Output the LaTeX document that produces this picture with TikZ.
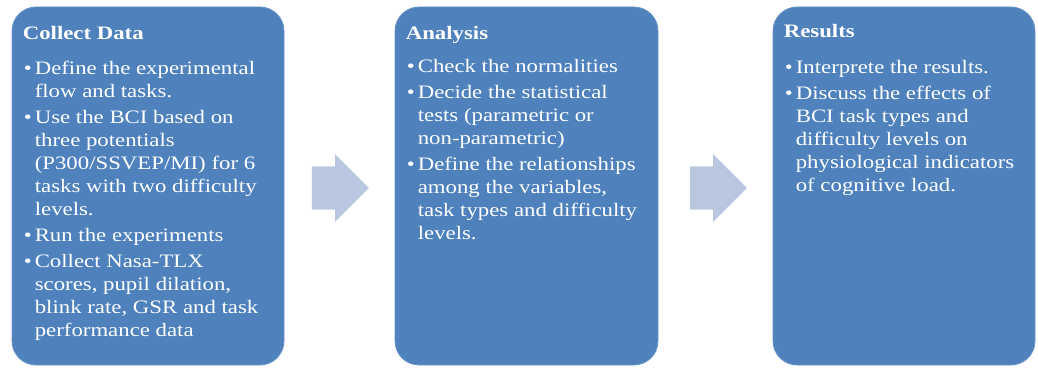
\documentclass[tikz,border=0pt]{standalone}
\usepackage{fontspec}
\setmainfont{LiberationSerif}[Extension=.ttf,UprightFont=*-Regular,BoldFont=*-Bold,ItalicFont=*-Italic,BoldItalicFont=*-BoldItalic,FakeStretch=1.2]
\usetikzlibrary{shapes.arrows,calc}
\definecolor{stageblue}{HTML}{4F81BD}
\definecolor{arrowblue}{HTML}{B9C6DF}
\newcommand{\bul}{\makebox[12pt][l]{\hspace{1pt}\textbullet}}
\begin{document}
\begin{tikzpicture}[x=1pt,y=1pt,
  stage box/.style={draw=stageblue!85!white,line width=0.8pt,fill=stageblue,rounded corners=24pt,minimum height=358pt,inner sep=0pt},
  stage text/.style={anchor=north west,inner sep=0pt,text=white,font=\fontsize{19}{23}\selectfont},
  flow arrow/.style={single arrow,fill=arrowblue,draw=none,minimum height=57pt,single arrow head extend=12pt,inner xsep=0pt,inner ysep=21.5pt}]
  \useasboundingbox (0,0) rectangle (1038,372);
  \node[stage box,minimum width=272pt] (1) at (148,186) {};
  \node[stage box,minimum width=263pt] (2) at (526.5,186) {};
  \node[stage box,minimum width=262pt] (3) at (904,186) {};

  \node[stage text] (t1) at ([shift={(11pt,-17pt)}]1.north west) {%
    \begin{tabular}{@{}l@{}l@{}}
      \multicolumn{2}{@{}l@{}}{\textbf{Collect Data}}\\[12pt]
      \bul & Define the experimental\\
           & flow and tasks.\\[3pt]
      \bul & Use the BCI based on\\
           & three potentials\\
           & (P300/SSVEP/MI) for 6\\
           & tasks with two difficulty\\
           & levels.\\[3pt]
      \bul & Run the experiments\\[3pt]
      \bul & Collect Nasa-TLX\\
           & scores, pupil dilation,\\
           & blink rate, GSR and task\\
           & performance data
    \end{tabular}};
  \node[stage text] (t2) at ([shift={(11pt,-17pt)}]2.north west) {%
    \begin{tabular}{@{}l@{}l@{}}
      \multicolumn{2}{@{}l@{}}{\textbf{Analysis}}\\[10pt]
      \bul & Check the normalities\\[3pt]
      \bul & Decide the statistical\\
           & tests (parametric or\\
           & non-parametric)\\[3pt]
      \bul & Define the relationships\\
           & among the variables,\\
           & task types and difficulty\\
           & levels.
    \end{tabular}};
  \node[stage text] (t3) at ([shift={(11pt,-15pt)}]3.north west) {%
    \begin{tabular}{@{}l@{}l@{}}
      \multicolumn{2}{@{}l@{}}{\textbf{Results}}\\[13pt]
      \bul & Interprete the results.\\[3pt]
      \bul & Discuss the effects of\\
           & BCI task types and\\
           & difficulty levels on\\
           & physiological indicators\\
           & of cognitive load.
    \end{tabular}};

  \node[flow arrow] (a1) at ($(1.east)!0.5!(2.west)+(-10,-2)$) {};
  \node[flow arrow] (a2) at ($(2.east)!0.5!(3.west)+(-8,-2)$) {};
\end{tikzpicture}
\end{document}
